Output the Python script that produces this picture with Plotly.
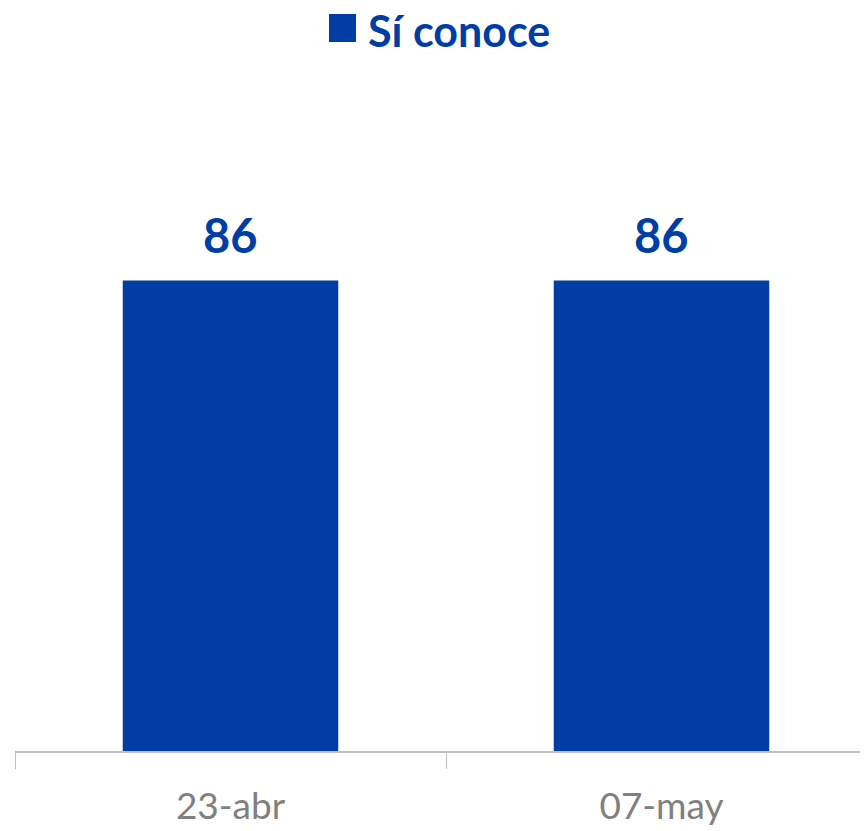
import plotly.graph_objects as go

categories = ["23-abr", "07-may"]
values = [86, 86]
series_name = "Sí conoce"

blue = "#003DA5"
font_fam = "Lato, Open Sans, sans-serif"

fig = go.Figure()
fig.add_trace(go.Bar(
    x=categories, y=values, name=series_name,
    marker=dict(color=blue, line=dict(width=0)),
    width=0.5, showlegend=False,
))

for c, v in zip(categories, values):
    fig.add_annotation(x=c, y=v, xref="x", yref="y", text="<b>%d</b>" % v,
                       showarrow=False, yanchor="bottom", yshift=16,
                       font=dict(family=font_fam, size=47, color=blue))

# legend (square + label)
pw = 861.0
fig.add_shape(type="rect", xref="paper", yref="paper",
              x0=(329 - 15) / pw, x1=(356 - 15) / pw,
              y0=(751 - 42) / 547, y1=(751 - 14) / 547,
              fillcolor=blue, line=dict(width=0))
fig.add_annotation(xref="paper", yref="paper", x=(366 - 15) / pw, y=(751 - 30) / 547,
                   xanchor="left", yanchor="middle", showarrow=False,
                   text="<b>" + series_name + "</b>",
                   font=dict(family=font_fam, size=43, color=blue))

fig.update_layout(
    width=868, height=831,
    margin=dict(l=7, r=0, t=196, b=88, autoexpand=False),
    paper_bgcolor="white", plot_bgcolor="white",
    showlegend=False,
    xaxis=dict(type="category", range=[-0.5, 1.4977], showline=True, linecolor="#BFBFBF",
               linewidth=1.5, ticks="outside", tickson="boundaries", ticklen=16,
               tickcolor="#BFBFBF", tickwidth=1, ticklabelstandoff=22,
               tickfont=dict(family=font_fam, size=37, color="#808080"),
               showgrid=False, zeroline=False),
    yaxis=dict(range=[0, 100], visible=False, showgrid=False, zeroline=False),
)

fig.write_html("out.html")
